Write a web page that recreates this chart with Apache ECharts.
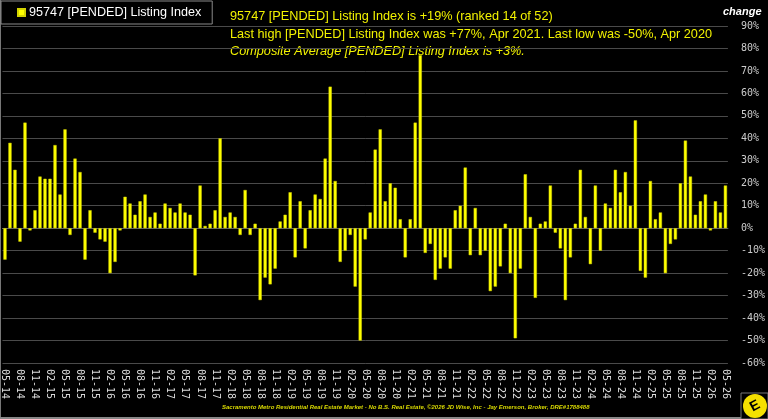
<!DOCTYPE html>
<html>
<head>
<meta charset="utf-8">
<script src="https://cdn.jsdelivr.net/npm/echarts@6/dist/echarts.min.js"></script>
<style>
  html, body { margin: 0; padding: 0; background: #000; }
  #chart { width: 768px; height: 419px; }
</style>
</head>
<body>
<div id="chart"></div>
<script>
// Monthly change, 05-14 .. 05-26
const startYear = 2014;
const startMonth = 5;
const monthCount = 145;

const changeValues = [
    -14, 38, 26, -6, 47, -1, 8, 23, 22, 22, 37, 15, 44, -3, 31, 25, -14, 8, -2, -5,
    -6, -20, -15, -1, 14, 11, 6, 12, 15, 5, 7, 2, 11, 9, 7, 11, 7, 6, -21, 19,
    1, 2, 8, 40, 5, 7, 5, -3, 17, -3, 2, -32, -22, -25, -18, 3, 6, 16, -13, 12,
    -9, 8, 15, 13, 31, 63, 21, -15, -10, -3, -26, -50, -5, 7, 35, 44, 12,
    20, 18, 4, -13, 4, 47, 77, -11, -7, -23, -18, -13, -18, 8, 10, 27, -12, 9, -12, -10,
    -28, -26, -17, 2, -20, -49, -18, 24, 5, -31, 2, 3, 19, -2, -9, -32, -13, 2,
    26, 5, -16, 19, -10, 11, 9, 26, 16, 25, 10, 48, -19, -22, 21, 4, 7, -20, -7, -5,
    20, 39, 23, 6, 12, 15, -1, 12, 7, 19
];

const seriesName = '95747 [PENDED] Listing Index';
const headlines = [
    '95747 [PENDED] Listing Index is +19% (ranked 14 of 52)',
    'Last high [PENDED] Listing Index was +77%, Apr 2021. Last low was -50%, Apr 2020',
    'Composite Average [PENDED] Listing Index is +3%.'
];
const footer = 'Sacramento Metro Residential Real Estate Market - No B.S. Real Estate, \u00a92026 JD Wise, Inc - Jay Emerson, Broker, DRE#1788488';

// month labels "MM-YY"
const categories = [];
for (let i = 0; i < monthCount; i++) {
    const m = (startMonth - 1 + i) % 12 + 1;
    const y = startYear + Math.floor((startMonth - 1 + i) / 12);
    categories.push(String(m).padStart(2, '0') + '-' + String(y % 100).padStart(2, '0'));
}

const chart = echarts.init(document.getElementById('chart'));
const yellow = '#f2f200';
const mono = '"DejaVu Sans Mono", monospace';
const sans = '"Liberation Sans", Arial';

const option = {
    backgroundColor: '#000',
    animation: false,
    grid: { left: 0, right: 38, top: 26, bottom: 56 },
    legend: {
        left: 1, top: 1,
        padding: [5, 11, 5, 16],
        itemWidth: 7, itemHeight: 7,
        icon: 'rect',
        itemGap: 4,
        borderColor: '#8a8a8a', borderWidth: 1,
        backgroundColor: '#000',
        textStyle: { color: '#fff', fontSize: 12.6, fontFamily: sans, padding: [0, 0, 0, -1] },
        data: [seriesName]
    },
    xAxis: {
        type: 'category',
        data: categories,
        axisLine: { lineStyle: { color: '#666' } },
        axisTick: { show: false },
        axisLabel: {
            interval: 2, rotate: -90, margin: 6,
            color: '#ddd', fontSize: 10, fontFamily: mono
        }
    },
    yAxis: {
        type: 'value',
        position: 'right',
        min: -60, max: 90, interval: 10,
        axisLine: { show: false },
        axisTick: { show: false },
        splitLine: { lineStyle: { color: '#4a4a4a', width: 1 } },
        axisLabel: {
            margin: 13, color: '#ccc', fontSize: 10, fontFamily: mono,
            formatter: v => v + '%'
        }
    },
    series: [{
        name: seriesName,
        type: 'bar',
        data: changeValues,
        barWidth: '64%',
        itemStyle: { color: '#ffff00', borderColor: '#d4d400', borderWidth: 0.5 }
    }],
    graphic: [
        { type: 'text', left: 230, top: 10, style: { text: headlines[0], fill: yellow, font: '12.7px ' + sans } },
        { type: 'text', left: 230, top: 28, style: { text: headlines[1], fill: yellow, font: '12.7px ' + sans } },
        { type: 'text', left: 230, top: 45, style: { text: headlines[2], fill: yellow, font: 'italic 12.7px ' + sans } },
        { type: 'text', left: 723, top: 6, style: { text: 'change', fill: '#fff', font: 'italic bold 11px ' + sans } },
        { type: 'text', left: 222, top: 404, style: { text: footer, fill: '#d8d800', font: 'italic bold 6px ' + sans } },
        { type: 'rect', shape: { x: 0, y: 0, width: 1, height: 419 }, style: { fill: '#777' } },
        { type: 'rect', shape: { x: 0, y: 417, width: 768, height: 2 }, style: { fill: '#888' } },
        { type: 'rect', shape: { x: 741, y: 393, width: 27, height: 26 }, style: { fill: '#000', stroke: '#777', lineWidth: 1 } },
        { type: 'circle', shape: { cx: 755, cy: 406, r: 12 }, style: { fill: '#f5e000' } },
        { type: 'text', x: 755, y: 406, rotation: 0.5, style: { text: 'E', fill: '#000', font: 'bold 14px ' + sans, align: 'center', verticalAlign: 'middle' } }
    ]
};

chart.setOption(option);
</script>
</body>
</html>
